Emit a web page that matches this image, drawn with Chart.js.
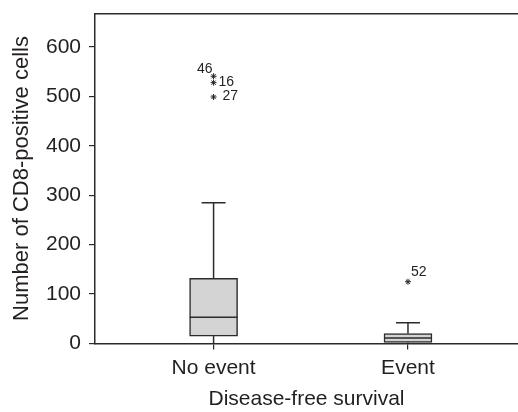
<!DOCTYPE html>
<html><head><meta charset="utf-8">
<script src="https://cdn.jsdelivr.net/npm/chart.js@4"></script>
<style>html,body{margin:0;padding:0;background:#fff}canvas{display:block}</style>
</head><body>
<canvas id="c" width="518" height="412"></canvas>
<script>
// ---- data ----
const categories = ['No event', 'Event'];
const whiskerLow = [0, 0];
const q1 = [15, 2];
const median = [53, 11];
const q3 = [132, 20];
const whiskerHigh = [285, 42];
const outlierValues = [[541, 528, 499], [125]];
const outlierIds = [['46', '16', '27'], ['52']];
const yTicks = [0, 100, 200, 300, 400, 500, 600];
const yMax = 668;
const xTitle = 'Disease-free survival';
const yTitle = 'Number of CD8-positive cells';

// ---- styles ----
const LINE = '#2b2b2b';
const TEXT = '#231f20';
const FILL = '#d4d4d4';
const FONT = "'Liberation Sans', Arial, Helvetica, sans-serif";
const CAP_HALF = 0.0617;   // in x units
const BOX_HALF = 0.1234;
const labelPlacement = {
  '46': {dx: -1, dy: -3, align: 'right'},
  '16': {dx: 5, dy: 3, align: 'left'},
  '27': {dx: 9, dy: 3.5, align: 'left'},
  '52': {dx: 3, dy: -6, align: 'left'}
};

Chart.defaults.font.family = FONT;
Chart.defaults.color = TEXT;

const boxData = categories.map((c, i) => ({x: i + 1, y: [q1[i], q3[i]]}));
const whiskerData = [];
categories.forEach((c, i) => {
  const x = i + 1;
  whiskerData.push({x, y: whiskerLow[i]}, {x, y: q1[i]}, {x, y: null});
  whiskerData.push({x, y: q3[i]}, {x, y: whiskerHigh[i]}, {x, y: null});
  whiskerData.push({x: x - CAP_HALF, y: whiskerHigh[i]}, {x: x + CAP_HALF, y: whiskerHigh[i]}, {x, y: null});
});
const medianData = [];
categories.forEach((c, i) => {
  const x = i + 1;
  medianData.push({x: x - BOX_HALF, y: median[i]}, {x: x + BOX_HALF, y: median[i]}, {x, y: null});
});
const outlierData = [];
const outlierLabels = [];
outlierValues.forEach((vals, i) => vals.forEach((v, j) => {
  outlierData.push({x: i + 1, y: v});
  outlierLabels.push(outlierIds[i][j]);
}));

const labelPlugin = {
  id: 'outlierLabels',
  afterDatasetsDraw(chart) {
    const meta = chart.getDatasetMeta(3);
    const ctx = chart.ctx;
    ctx.save();
    ctx.font = '14px ' + FONT;
    ctx.fillStyle = TEXT;
    ctx.textBaseline = 'alphabetic';
    meta.data.forEach((pt, k) => {
      const id = outlierLabels[k];
      const p = labelPlacement[id];
      ctx.textAlign = p.align;
      ctx.fillText(id, pt.x + p.dx, pt.y + p.dy);
    });
    ctx.restore();
  }
};

function noPad(s) { s.paddingTop = 0; s.paddingBottom = 0; s.paddingLeft = 0; s.paddingRight = 0; }

new Chart(document.getElementById('c'), {
  data: {
    datasets: [
      {type: 'bar', data: boxData, backgroundColor: FILL, borderColor: LINE, borderWidth: 1.5,
       borderSkipped: false, barThickness: 48, order: 3},
      {type: 'line', data: whiskerData, borderColor: LINE, borderWidth: 1.5, pointRadius: 0,
       spanGaps: false, fill: false, order: 2},
      {type: 'line', data: medianData, borderColor: LINE, borderWidth: 1.5, pointRadius: 0,
       spanGaps: false, fill: false, order: 1},
      {type: 'scatter', data: outlierData, pointStyle: 'star', pointRadius: 3,
       borderColor: '#222', borderWidth: 1, backgroundColor: '#222', order: 0}
    ]
  },
  options: {
    responsive: false,
    animation: false,
    devicePixelRatio: 1,
    layout: {padding: 0, autoPadding: false},
    plugins: {legend: {display: false}, tooltip: {enabled: false}},
    scales: {
      x: {
        type: 'linear', position: 'bottom', min: 0.39, max: 2.566, offset: false,
        afterBuildTicks: s => { s.ticks = categories.map((c, i) => ({value: i + 1})); },
        afterFit: s => { s.height = 68.5; noPad(s); },
        ticks: {callback: v => categories[v - 1], font: {size: 21}, color: TEXT, padding: 6, maxRotation: 0},
        grid: {offset: false, drawOnChartArea: false, drawTicks: true, tickLength: 6, color: LINE, lineWidth: 1.2},
        border: {display: true, color: LINE, width: 1.5},
        title: {display: true, text: xTitle, font: {size: 21}, color: TEXT, padding: {top: 0, bottom: 0}}
      },
      x2: {
        type: 'linear', position: 'top', display: true, offset: false,
        afterFit: s => { s.height = 13.5; noPad(s); },
        ticks: {display: false},
        grid: {display: false, drawTicks: false},
        border: {display: true, color: LINE, width: 1.5}
      },
      y: {
        type: 'linear', min: 0, max: yMax,
        afterBuildTicks: s => { s.ticks = yTicks.map(v => ({value: v})); },
        afterFit: s => { s.width = 95; noPad(s); },
        ticks: {font: {size: 21}, color: TEXT, padding: 8},
        grid: {drawOnChartArea: false, drawTicks: true, tickLength: 6, color: LINE, lineWidth: 1.2},
        border: {display: true, color: LINE, width: 1.5},
        title: {display: true, text: yTitle, font: {size: 22}, color: TEXT, padding: {top: 9, bottom: 0}}
      }
    }
  },
  plugins: [labelPlugin]
});
</script>
</body></html>
